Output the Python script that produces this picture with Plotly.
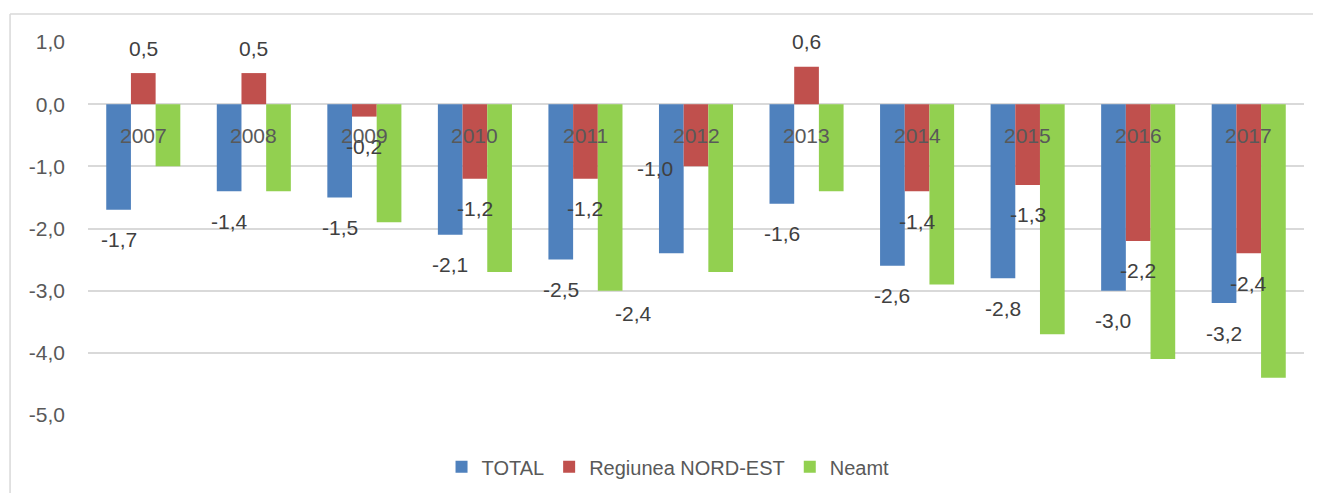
import plotly.graph_objects as go

years = ["2007", "2008", "2009", "2010", "2011", "2012", "2013", "2014", "2015", "2016", "2017"]
total = [-1.7, -1.4, -1.5, -2.1, -2.5, -2.4, -1.6, -2.6, -2.8, -3.0, -3.2]
regiunea = [0.5, 0.5, -0.2, -1.2, -1.2, -1.0, 0.6, -1.4, -1.3, -2.2, -2.4]
neamt = [-1.0, -1.4, -1.9, -2.7, -3.0, -2.7, -1.4, -2.9, -3.7, -4.1, -4.4]
tick_vals = [1, 0, -1, -2, -3, -4, -5]
tick_text = ["1,0", "0,0", "-1,0", "-2,0", "-3,0", "-4,0", "-5,0"]

BLUE, RED, GREEN = "#4F81BD", "#C0504D", "#92D050"
FONT = "'Liberation Sans', Arial, sans-serif"
BARGAP = 0.33
W = (1 - BARGAP) / 3

fig = go.Figure()
for name, vals, col in [("TOTAL", total, BLUE), ("Regiunea NORD-EST", regiunea, RED), ("Neamt", neamt, GREEN)]:
    fig.add_trace(go.Bar(x=years, y=vals, name=name, marker=dict(color=col, line=dict(width=0))))

def fmt(v):
    return ("%.1f" % v).replace(".", ",")

# manual nudges (pixels) for labels moved in the original
nudge = {("t", 5): (-38, -30), ("r", 5): (-41, 28)}

ann = []
for key, series, off in [("t", total, -W), ("r", regiunea, 0.0)]:
    for i, v in enumerate(series):
        dx, dy = nudge.get((key, i), (0, 0))
        ann.append(dict(x=i + off, y=v, xref="x", yref="y", text=fmt(v), showarrow=False,
                        yshift=(25 if v > 0 else -30) + dy, xshift=dx,
                        font=dict(family=FONT, size=21, color="#404040")))
for i, y in enumerate(years):
    ann.append(dict(x=i, y=0, xref="x", yref="y", text=y, showarrow=False, yshift=-31,
                    font=dict(family=FONT, size=21, color="#595959")))

border = dict(color="#d9d9d9", width=1.5)
fig.update_layout(
    width=1321, height=493,
    margin=dict(l=80, r=25, t=34, b=86, autoexpand=False),
    paper_bgcolor="white", plot_bgcolor="white",
    barmode="group", bargap=BARGAP, bargroupgap=0,
    font=dict(family=FONT, size=20, color="#595959"),
    showlegend=True,
    legend=dict(orientation="h", x=0.477, xanchor="center", y=-0.139, yanchor="middle",
                font=dict(family=FONT, size=20, color="#595959"), traceorder="normal",
                itemwidth=30),
    annotations=ann,
    shapes=[dict(type="line", xref="paper", yref="paper", x0=-0.0641, x1=-0.0641, y0=-0.5, y1=1.075,
                 line=border, layer="below"),
            dict(type="line", xref="paper", yref="paper", x0=-0.0641, x1=1.2, y0=1.075, y1=1.075,
                 line=border, layer="below")],
    xaxis=dict(showticklabels=False, showgrid=False, showline=False, zeroline=False, range=[-0.5, 10.5],
               automargin=False),
    yaxis=dict(range=[-5, 1], tickvals=tick_vals, ticktext=tick_text, showgrid=True,
               gridcolor="#d9d9d9", gridwidth=1.5, zeroline=True, zerolinecolor="#d9d9d9",
               zerolinewidth=1.5, ticklabelstandoff=22, showline=False, automargin=False,
               tickfont=dict(family=FONT, size=21, color="#595959")),
)

fig.write_html("out.html")
